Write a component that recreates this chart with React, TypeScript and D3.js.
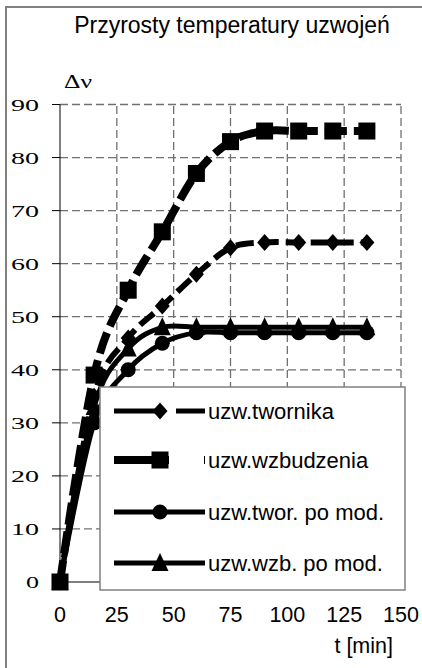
import * as d3 from "d3";

const times = [0, 15, 30, 45, 60, 75, 90, 105, 120, 135];
const uzwTwornika = [0, 35, 46, 52, 58, 63, 64, 64, 64, 64];
const uzwWzbudzenia = [0, 39, 55, 66, 77, 83, 85, 85, 85, 85];
const uzwTworMod = [0, 30, 40, 45, 47, 47, 47, 47, 47, 47];
const uzwWzbMod = [0, 33, 44, 48, 48, 48, 48, 48, 48, 48];
const xTicks = [0, 25, 50, 75, 100, 125, 150];
const yTicks = [0, 10, 20, 30, 40, 50, 60, 70, 80, 90];

const seriesList = [
  { name: "uzw.twornika", values: uzwTwornika, marker: "diamond", width: 6, dash: "18,7", legendDash: "50,12" },
  { name: "uzw.wzbudzenia", values: uzwWzbudzenia, marker: "square", width: 8, dash: "22,7", legendDash: "55,35" },
  { name: "uzw.twor. po mod.", values: uzwTworMod, marker: "circle", width: 5, dash: null, legendDash: null },
  { name: "uzw.wzb. po mod.", values: uzwWzbMod, marker: "triangle", width: 5, dash: null, legendDash: null },
];

const W = 422, H = 668;
const x = d3.scaleLinear().domain([0, 150]).range([60, 401]);
const y = d3.scaleLinear().domain([0, 90]).range([582, 104.5]);

const sans = "'Liberation Sans', Arial, sans-serif";
const serif = "'Liberation Serif', 'Times New Roman', serif";

const Marker = ({ kind, cx, cy }: { kind: string; cx: number; cy: number }) => {
  if (kind === "square") return <rect x={cx - 8.5} y={cy - 8.5} width={17} height={17} fill="#000" />;
  if (kind === "circle") return <circle cx={cx} cy={cy} r={7.5} fill="#000" />;
  if (kind === "diamond")
    return <path d={`M${cx},${cy - 8.5}L${cx + 7.5},${cy}L${cx},${cy + 8.5}L${cx - 7.5},${cy}Z`} fill="#000" />;
  return <path d={`M${cx},${cy - 10}L${cx + 8.5},${cy + 8}L${cx - 8.5},${cy + 8}Z`} fill="#000" />;
};

export default function App() {
  const line = d3
    .line<number>()
    .x((_v, i) => x(times[i]))
    .y((v) => y(v))
    .curve(d3.curveCardinal.tension(0));

  const legendRows = [411, 460, 512, 563];

  return (
    <svg width={W} height={H} style={{ position: "absolute", left: 0, top: 0, background: "#fff" }}>
      <rect x={0} y={0} width={W} height={H} fill="#fff" />
      {/* outer frame, right and bottom edges fall outside */}
      <path d={`M6,${H + 5}V7H${W + 5}`} fill="none" stroke="#808080" strokeWidth={2} />

      <text x={232} y={33} textAnchor="middle" fontFamily={sans} fontSize={23}>
        Przyrosty temperatury uzwojeń
      </text>
      <text x={64} y={88} fontFamily={serif} fontSize={18} textLength={28} lengthAdjust="spacingAndGlyphs">
        Δν
      </text>

      {/* grid */}
      {yTicks.filter((t) => t > 0).map((t) => (
        <line key={"gy" + t} x1={x(0)} x2={x(150)} y1={y(t)} y2={y(t)} stroke="#707070" strokeWidth={1.3} strokeDasharray="8,4" />
      ))}
      {xTicks.filter((t) => t > 0).map((t) => (
        <line key={"gx" + t} x1={x(t)} x2={x(t)} y1={y(0)} y2={y(90)} stroke="#707070" strokeWidth={1.3} strokeDasharray="8,4" />
      ))}

      {/* axes */}
      <line x1={x(0)} x2={x(0)} y1={y(0)} y2={y(90)} stroke="#000" strokeWidth={1} />
      <line x1={x(0)} x2={x(150)} y1={y(0)} y2={y(0)} stroke="#000" strokeWidth={1} />
      {yTicks.map((t) => (
        <g key={"ty" + t}>
          <line x1={x(0) - 8} x2={x(0)} y1={y(t)} y2={y(t)} stroke="#000" strokeWidth={1} />
          <text
            x={39}
            y={y(t) + 6}
            textAnchor="end"
            fontFamily={serif}
            fontSize={17}
            textLength={t < 10 ? 13 : 28}
            lengthAdjust="spacingAndGlyphs"
          >
            {t}
          </text>
        </g>
      ))}
      {xTicks.map((t) => (
        <text key={"tx" + t} x={x(t)} y={622} textAnchor="middle" fontFamily={sans} fontSize={21.5}>
          {t}
        </text>
      ))}
      <text x={393} y={653} textAnchor="end" fontFamily={sans} fontSize={21.5}>
        t [min]
      </text>

      {/* series */}
      {seriesList.map((s) => (
        <g key={s.name}>
          <path
            d={line(s.values) || ""}
            fill="none"
            stroke="#000"
            strokeWidth={s.width}
            strokeDasharray={s.dash || undefined}
            strokeLinejoin="round"
          />
          {s.values.map((v, i) => (
            <Marker key={i} kind={s.marker} cx={x(times[i])} cy={y(v)} />
          ))}
        </g>
      ))}

      {/* legend */}
      <rect x={100} y={387} width={305} height={203} fill="#fff" stroke="#808080" strokeWidth={1.5} />
      {seriesList.map((s, i) => (
        <g key={"lg" + s.name}>
          <line
            x1={114}
            x2={205}
            y1={legendRows[i]}
            y2={legendRows[i]}
            stroke="#000"
            strokeWidth={s.width === 6 ? 5 : s.width}
            strokeDasharray={s.legendDash || undefined}
          />
          <Marker kind={s.marker} cx={160} cy={legendRows[i]} />
          <text x={208} y={legendRows[i] + 8} fontFamily={sans} fontSize={22}>
            {s.name}
          </text>
        </g>
      ))}
    </svg>
  );
}
